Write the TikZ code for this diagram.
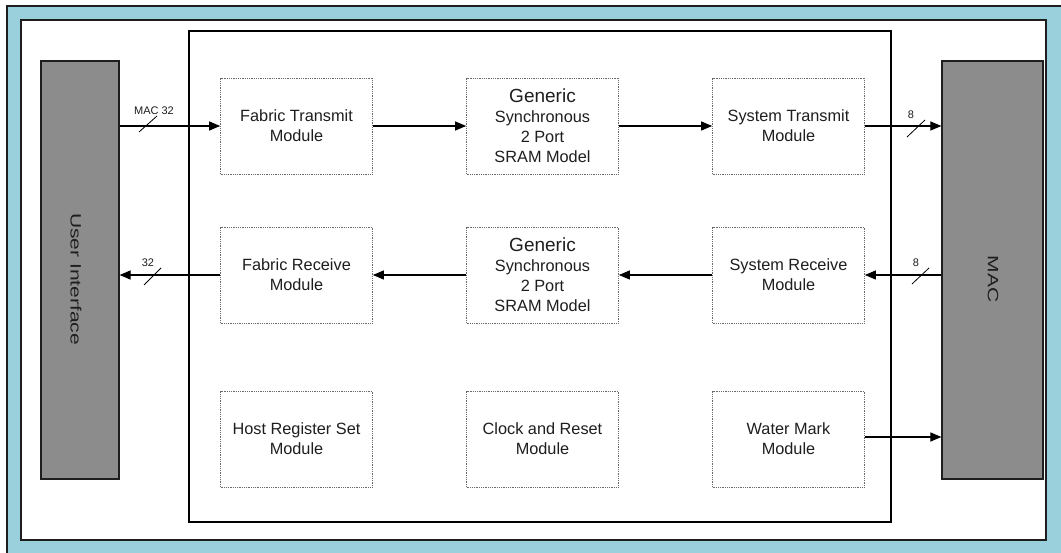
\documentclass[tikz,border=0pt]{standalone}
\usepackage{fontspec}
\setmainfont{Liberation Sans}
\usetikzlibrary{arrows.meta}
\definecolor{frameblue}{HTML}{9AD0DC}
\definecolor{blockgray}{HTML}{8C8C8C}
\definecolor{linedark}{HTML}{1E1E1E}
\definecolor{dotgray}{HTML}{6A6A6A}
\begin{document}
\begin{tikzpicture}[x=1pt,y=-1pt,
  module/.style={draw=dotgray, line width=0.7pt, dash pattern=on 0.9pt off 0.9pt, fill=white,
    minimum width=152pt, minimum height=96pt, align=center, text=linedark,
    font=\fontsize{16.3}{20}\selectfont, inner sep=0pt},
  ext/.style={draw=linedark, line width=1.2pt, fill=blockgray, inner sep=0pt},
  conn/.style={draw=black, line width=1.1pt, -{Triangle[length=11pt,width=9pt]}},
  slash/.style={draw=black, line width=0.8pt},
  buslabel/.style={font=\fontsize{11}{13}\selectfont, text=linedark, inner sep=0pt},
  vlabel/.style={font=\fontsize{15}{18}\selectfont, text=linedark, rotate=-90, inner sep=0pt}]
\useasboundingbox (0,0) rectangle (1061,553);
% frames
\path[fill=frameblue, draw=linedark, line width=1.3pt] (7,6) rectangle (1075,570);
\path[fill=white, draw=linedark, line width=1.3pt] (21,20) rectangle (1046,540);
\node[draw=black, line width=1.2pt, fill=white, minimum width=702pt, minimum height=491pt, inner sep=0pt] (core) at (540,276.5) {};
% external blocks
\node[ext, minimum width=78pt, minimum height=418pt] (ui) at (80,270) {};
\node[ext, minimum width=101pt, minimum height=418pt] (mac) at (992.5,270) {};
\node[vlabel] (uilabel) at (76,279) {\scalebox{1.4}[1]{User Interface}};
\node[vlabel] (maclabel) at (993,279) {\scalebox{1.4}[1]{MAC}};
% modules
\node[module] (ft) at (296.5,126) {Fabric Transmit\\Module};
\node[module] (g1) at (542.5,126) {{\fontsize{19}{20}\selectfont Generic}\\Synchronous\\2 Port\\SRAM Model};
\node[module] (st) at (788.5,126) {System Transmit\\Module};
\node[module] (fr) at (296.5,275) {Fabric Receive\\Module};
\node[module] (g2) at (542.5,275) {{\fontsize{19}{20}\selectfont Generic}\\Synchronous\\2 Port\\SRAM Model};
\node[module] (sr) at (788.5,275) {System Receive\\Module};
\node[module] (hr) at (296.5,439) {Host Register Set\\Module};
\node[module] (cr) at (542.5,439) {Clock and Reset\\Module};
\node[module] (wm) at (788.5,439) {Water Mark\\Module};
% connectors
\draw[conn] (ui.east |- ft.west) -- (ft.west);
\draw[conn] (ft.east) -- (g1.west);
\draw[conn] (g1.east) -- (st.west);
\draw[conn] (st.east) -- (st.east -| mac.west);
\draw[conn] (sr.east -| mac.west) -- (sr.east);
\draw[conn] (sr.west) -- (g2.east);
\draw[conn] (g2.west) -- (fr.east);
\draw[conn] (fr.west) -- (fr.west -| ui.east);
\draw[conn] (wm.east |- 0,437) -- (mac.west |- 0,437);
% bus width marks
\coordinate (s1a) at (139,132); \coordinate (s1b) at (157,116);
\coordinate (s2a) at (907,137); \coordinate (s2b) at (925,120);
\coordinate (s3a) at (144,285); \coordinate (s3b) at (161,268);
\coordinate (s4a) at (912,284); \coordinate (s4b) at (929,268);
\draw[slash] (s1a) -- (s1b);
\draw[slash] (s2a) -- (s2b);
\draw[slash] (s3a) -- (s3b);
\draw[slash] (s4a) -- (s4b);
\node[buslabel] (l1) at (154,110.5) {MAC 32};
\node[buslabel] (l2) at (911,115) {8};
\node[buslabel] (l3) at (148,263) {32};
\node[buslabel] (l4) at (916,263) {8};
\end{tikzpicture}
\end{document}
